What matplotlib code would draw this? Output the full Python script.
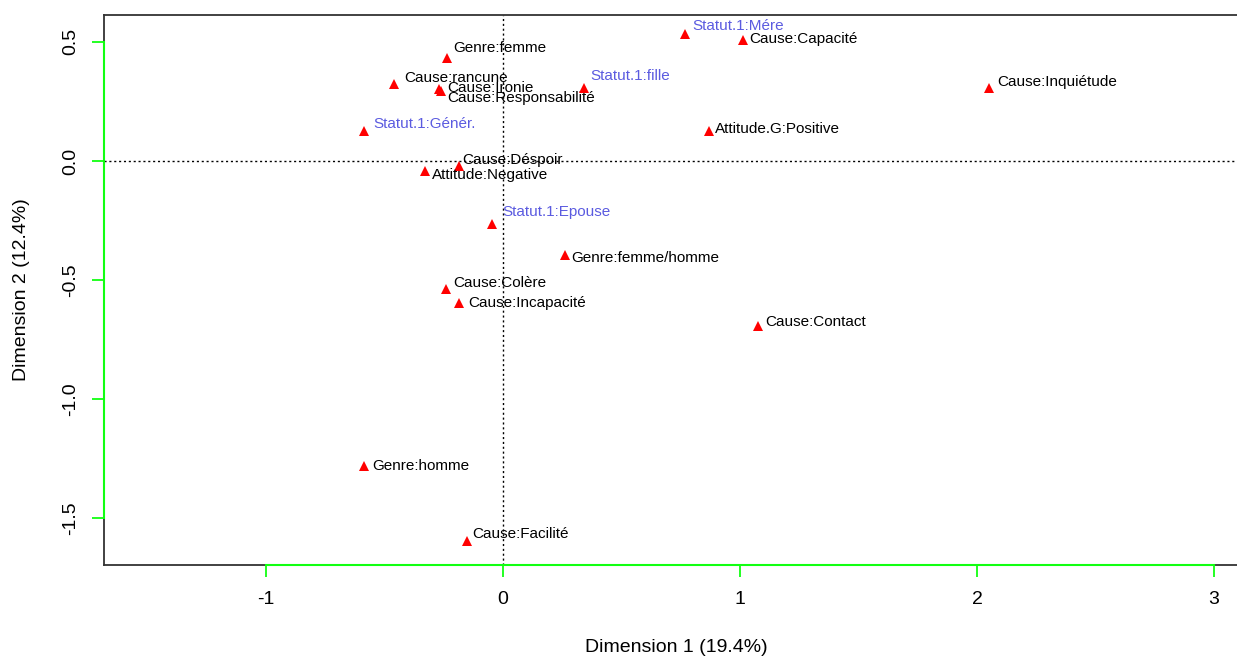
import numpy as np
import matplotlib
matplotlib.use('Agg')
import matplotlib.pyplot as plt

plt.rcParams['font.family'] = ['Liberation Sans', 'DejaVu Sans']

# modalités (coordonnées)
labels = ['Statut.1:Mére', 'Cause:Capacité', 'Genre:femme', 'Cause:rancune',
          'Cause:Ironie', 'Cause:Responsabilité', 'Statut.1:fille', 'Cause:Inquiétude',
          'Attitude.G:Positive', 'Statut.1:Génér.', 'Cause:Déspoir', 'Attitude:Negative',
          'Statut.1:Epouse', 'Genre:femme/homme', 'Cause:Colère', 'Cause:Incapacité',
          'Cause:Contact', 'Genre:homme', 'Cause:Facilité']
dim1 = [0.768, 1.013, -0.236, -0.460, -0.270, -0.262, 0.342, 2.050,
        0.869, -0.586, -0.186, -0.329, -0.046, 0.262, -0.240, -0.186,
        1.076, -0.586, -0.152]
dim2 = [0.534, 0.508, 0.433, 0.324, 0.303, 0.294, 0.307, 0.307,
        0.126, 0.126, -0.021, -0.042, -0.265, -0.395, -0.538, -0.597,
        -0.693, -1.282, -1.597]

# décalage des étiquettes (pixels, dx / dy)
label_offsets = [(7, 8), (6, 1), (6, 10), (10, 6), (8, 1), (6, -7), (6, 12), (8, 6),
                 (6, 2), (9, 7), (3, 6), (7, -4), (10, 12), (6, -3), (7, 6), (9, 0),
                 (7, 4), (8, 0), (5, 7)]

x_ticks = [-1, 0, 1, 2, 3]
y_ticks = [-1.5, -1.0, -0.5, 0.0, 0.5]

W, H = 1237, 657
fig = plt.figure(figsize=(W / 100, H / 100), dpi=100)
left, right, top, bottom = 104, 1248, 15, 565
ax = fig.add_axes([left / W, 1 - bottom / H, (right - left) / W, (bottom - top) / H])

ax.set_xlim(-1.684, 3.143)
ax.set_ylim(-1.697, 0.613)

px = 0.72  # points par pixel
for name, x, y, (dx, dy) in zip(labels, dim1, dim2, label_offsets):
    ax.plot(x, y, marker='^', color='red', markersize=7.5, markeredgewidth=0, linestyle='none', zorder=3)
    col = '#5b5be0' if name.startswith('Statut') else 'black'
    ax.annotate(name, (x, y), xytext=(dx * px, dy * px), textcoords='offset points',
                ha='left', va='center', fontsize=11, color=col)

ax.axhline(0, color='black', linestyle=(0, (1.5, 2)), linewidth=1, zorder=1)
ax.axvline(0, color='black', linestyle=(0, (1.5, 2)), linewidth=1, zorder=1)

for s in ax.spines.values():
    s.set_color('#333333')
    s.set_linewidth(1.3)

# axes vertes façon R
ax.plot([x_ticks[0], x_ticks[-1]], [-1.697, -1.697], color='#11ff11', linewidth=1.5,
        clip_on=False, zorder=5)
ax.plot([-1.684, -1.684], [y_ticks[0], y_ticks[-1]], color='#11ff11', linewidth=1.5,
        clip_on=False, zorder=5)

ax.set_xticks(x_ticks)
ax.set_xticklabels(['-1', '0', '1', '2', '3'])
ax.set_yticks(y_ticks)
ax.set_yticklabels(['-1.5', '-1.0', '-0.5', '0.0', '0.5'], rotation=90, va='center')
ax.tick_params(axis='both', color='#11ff11', length=8.6, width=1.3, labelsize=14)
ax.tick_params(axis='x', pad=10)
ax.tick_params(axis='y', pad=9)

fig.text(676 / W, 1 - 648 / H, 'Dimension 1 (19.4%)', ha='center', va='center', fontsize=14)
fig.text(22 / W, 1 - 290 / H, 'Dimension 2 (12.4%)', ha='center', va='center',
         rotation=90, fontsize=14)

fig.savefig('out.png', dpi=100)
